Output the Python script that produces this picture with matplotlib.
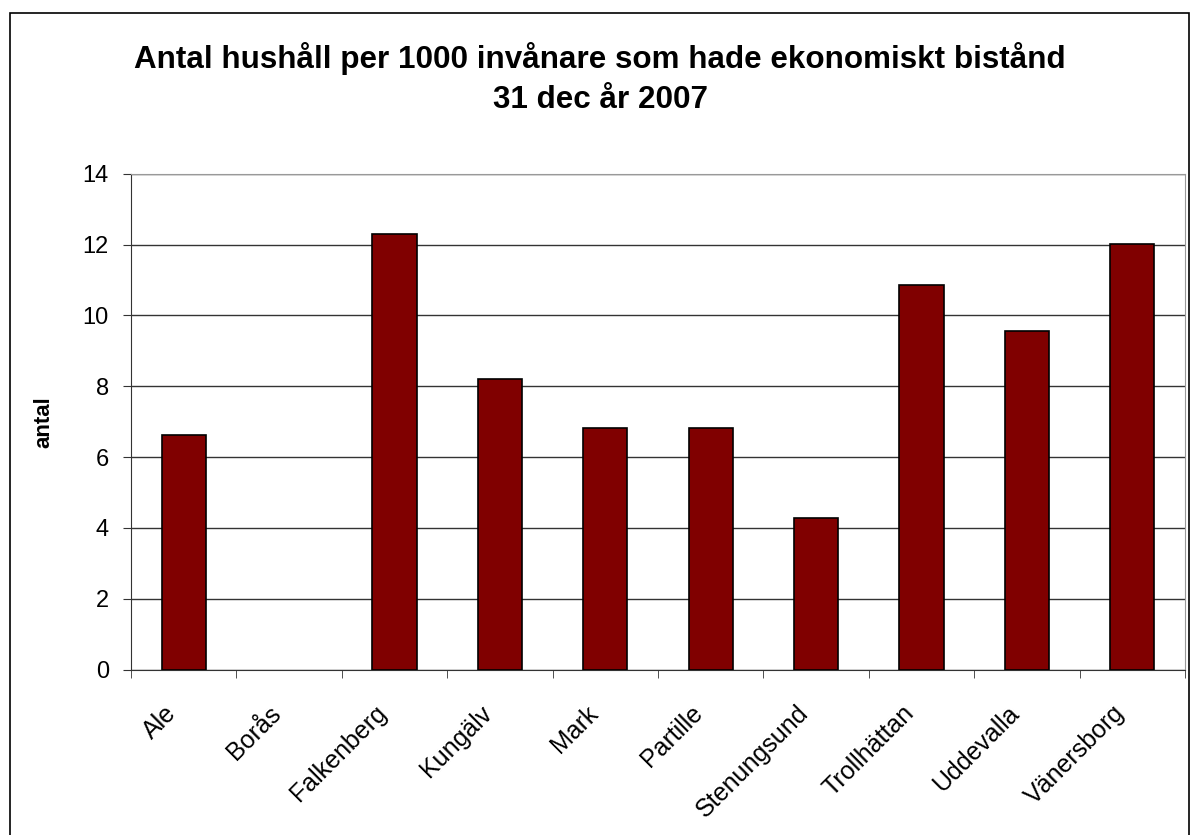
import matplotlib
matplotlib.use('Agg')
import matplotlib.pyplot as plt
import matplotlib.transforms as mtransforms
from matplotlib.patches import Rectangle
import numpy as np

plt.rcParams['font.family'] = ['Liberation Sans', 'DejaVu Sans']

kommuner = ['Ale', 'Borås', 'Falkenberg', 'Kungälv', 'Mark', 'Partille',
            'Stenungsund', 'Trollhättan', 'Uddevalla', 'Vänersborg']
# Borås has no value in the source
antal = [6.62, np.nan, 12.30, 8.21, 6.81, 6.81, 4.27, 10.85, 9.55, 12.01]
yticks = [0, 2, 4, 6, 8, 10, 12, 14]

fig = plt.figure(figsize=(11.91, 8.35), dpi=100)
ax = fig.add_axes([0.110, 0.198, 0.885, 0.594])

x = np.arange(len(kommuner))
ax.bar(x, antal, width=0.42, color='#800000', edgecolor='black', linewidth=1.2, zorder=3)

ax.set_xlim(-0.5, len(kommuner) - 0.5)
ax.set_ylim(0, 14)
ax.set_yticks(yticks)
ax.yaxis.grid(True, color='#333333', linewidth=1.0, zorder=0)
ax.tick_params(axis='y', direction='out', length=6, labelsize=17, color='#333333', pad=10)

# category labels at bar centres, tick marks at category boundaries
ax.set_xticks(x)
ax.set_xticklabels(kommuner, rotation=45, ha='right', rotation_mode='anchor', fontsize=18)
ax.tick_params(axis='x', which='major', length=0, pad=14)
ax.set_xticks(np.arange(-0.5, len(kommuner), 1.0), minor=True)
ax.tick_params(axis='x', which='minor', direction='out', length=6, color='#333333')

shift = mtransforms.ScaledTranslation(-0.20, -0.12, fig.dpi_scale_trans)
for lab in ax.get_xticklabels():
    lab.set_transform(lab.get_transform() + shift)

for s in ['left', 'bottom']:
    ax.spines[s].set_color('#333333')
for s in ['top', 'right']:
    ax.spines[s].set_color('#999999')

ax.set_ylabel('antal', fontsize=16, fontweight='bold', labelpad=20)

fig.text(0.504, 0.950, 'Antal hushåll per 1000 invånare som hade ekonomiskt bistånd\n31 dec år 2007',
         ha='center', va='top', fontsize=22.6, fontweight='bold', linespacing=1.44)

# outer chart frame
fig.patches.append(Rectangle((0.008, -0.01), 0.99, 0.995, transform=fig.transFigure,
                             fill=False, edgecolor='black', linewidth=1.2))

fig.savefig('out.png', dpi=100)
plt.close(fig)
